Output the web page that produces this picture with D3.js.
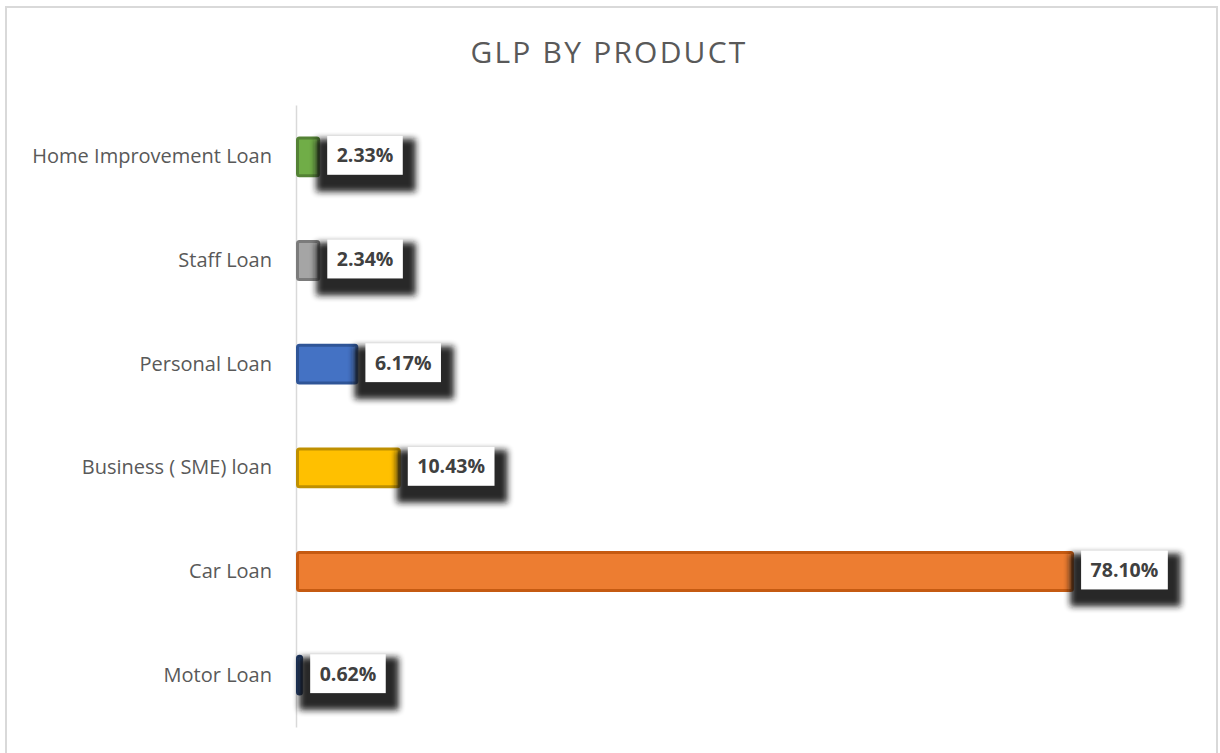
<!DOCTYPE html>
<html><head><meta charset="utf-8">
<script src="https://cdn.jsdelivr.net/npm/d3@7"></script>
<style>body{margin:0;background:#fff;} svg{display:block;}</style>
</head><body>
<script>
const categories = ["Home Improvement Loan","Staff Loan","Personal Loan","Business ( SME) loan","Car Loan","Motor Loan"];
const values = [2.33, 2.34, 6.17, 10.43, 78.10, 0.62];
const fills = ["#70ad47","#a5a5a5","#4472c4","#ffc000","#ed7d31","#264478"];
const strokes = ["#548235","#7b7b7b","#2f5597","#bf9000","#c55a11","#1f3864"];
const title = "GLP BY PRODUCT";

const W = 1220, H = 753;
const svg = d3.select("body").append("svg").attr("width", W).attr("height", H);
const defs = svg.append("defs");
const f = defs.append("filter").attr("id","blur").attr("x","-30%").attr("y","-50%").attr("width","160%").attr("height","200%");
f.append("feGaussianBlur").attr("stdDeviation",3);

// chart border
svg.append("rect").attr("x",6).attr("y",7).attr("width",1211).attr("height",760)
  .attr("fill","none").attr("stroke","#d9d9d9").attr("stroke-width",2);

svg.append("text").attr("x",609).attr("y",63).attr("text-anchor","middle")
  .attr("font-family","Open Sans, sans-serif").attr("font-weight",400).attr("font-size",30)
  .attr("letter-spacing",2.2).attr("fill","#595959").text(title);

const x = d3.scaleLinear().domain([0, 90]).range([296, 1191.5]);
const y = d3.scaleBand().domain(categories).range([105, 727]).paddingInner(0.615).paddingOuter(0.3075);

// axis
const axis = d3.axisLeft(y).tickSize(0).tickPadding(24);
const ag = svg.append("g").attr("transform","translate(296,0)").call(axis);
ag.select(".domain").attr("stroke","#d9d9d9").attr("stroke-width",1.5);
ag.selectAll("text").attr("font-family","Open Sans, sans-serif").attr("font-size",20).attr("fill","#595959");

const g = svg.selectAll("g.bar").data(categories).enter().append("g").attr("class","bar");
g.append("rect")
  .attr("x", x(0)+1.5)
  .attr("y", d => y(d)+1)
  .attr("width", (d,i) => Math.max(x(values[i]) - x(0) - 2, 2))
  .attr("height", y.bandwidth()-2)
  .attr("rx", 2)
  .attr("fill", (d,i) => fills[i])
  .attr("stroke", (d,i) => strokes[i])
  .attr("stroke-width", 3);

const lab = svg.selectAll("g.lab").data(categories).enter().append("g").attr("class","lab")
  .attr("transform",(d,i)=>`translate(${x(values[i])+8},${y(d)-1})`);
lab.each(function(d,i){
  const s = d3.select(this);
  const bh = y.bandwidth()-1;
  const t = s.append("text").attr("font-family","Open Sans, sans-serif").attr("font-weight",700)
    .attr("font-size",19.5).attr("fill","#404040").attr("x",9.5).attr("y",bh/2).attr("dy","0.36em")
    .text(values[i].toFixed(2)+"%");
  const w = t.node().getComputedTextLength();
  const bw = w + 19;
  s.insert("rect","text").attr("x",-11).attr("y",3).attr("width",bw+24).attr("height",bh+14)
    .attr("fill","#121212").attr("opacity",0.92).attr("filter","url(#blur)");
  s.insert("rect","text").attr("x",0).attr("y",0).attr("width",bw).attr("height",bh)
    .attr("fill","#fff");
});
</script>
</body></html>
